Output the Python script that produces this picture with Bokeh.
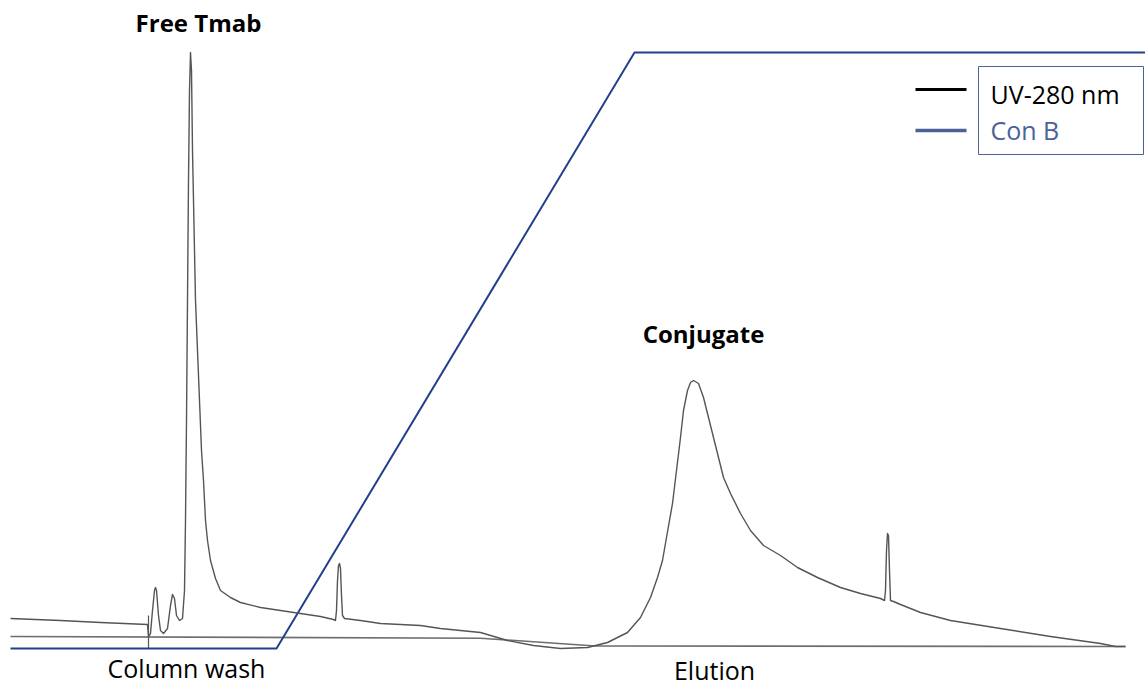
from bokeh.plotting import figure
from bokeh.models import Range1d, Label
from bokeh.embed import file_html
from bokeh.resources import INLINE

# ---------------- data (time in arbitrary units, signal in arbitrary units) -------------
uv_time = [10, 60, 100, 147, 148, 150, 152, 154, 155, 156, 158, 160, 163, 167, 170, 172, 174,
           176, 179, 182, 184, 185, 186, 187, 188, 189, 190, 191, 192, 194, 195, 197, 199, 201,
           203, 205, 207, 210, 215, 220, 230, 240, 260, 280, 300, 320, 333, 335, 336, 337, 338,
           339, 340, 341, 342, 344, 360, 380, 400, 420, 440, 460, 480, 507, 533, 560, 587, 607,
           627, 640, 650, 657, 662, 666, 672, 676, 680, 683, 687, 690, 693, 698, 703, 708, 713,
           718, 723, 730, 740, 750, 763, 780, 797, 817, 840, 860, 880, 884, 885, 886, 887, 888,
           889, 890, 893, 900, 920, 950, 1000, 1050, 1100, 1115, 1125]
uv_signal = [70, 68, 66, 64, 52, 55, 78, 98, 101, 98, 73, 58, 55, 60, 83, 94, 90,
             73, 68, 70, 98, 168, 268, 388, 508, 598, 636, 618, 538, 438, 388, 338, 288, 238,
             208, 168, 148, 128, 110, 98, 91, 86, 81, 78, 75, 72, 69, 68, 78, 108, 123,
             125, 120, 93, 73, 70, 68, 65, 64, 63, 60, 58, 56, 48, 43, 40, 41, 46,
             56, 71, 91, 111, 128, 151, 185, 218, 251, 278, 298, 306, 308, 305, 291, 271, 251,
             231, 211, 195, 175, 158, 143, 133, 121, 111, 101, 95, 90, 88, 98, 138, 155, 153,
             118, 88, 87, 84, 76, 68, 60, 52, 45, 42, 42]

base_time = [10, 480, 595, 1125]
base_signal = [52, 50.3, 42.5, 42]

conb_time = [10, 276, 634, 1145]
conb_level = [40, 40, 636, 636]

inject_time = [148, 148]
inject_mark = [73, 40]

series_names = ["UV-280 nm", "Con B"]
peak_labels = ["Free Tmab", "Conjugate"]
phase_labels = ["Column wash", "Elution"]

# ---------------- figure -----------------------------------------------------------------
W, H = 1145, 688
p = figure(width=W, height=H, output_backend="svg", toolbar_location=None,
           x_range=Range1d(0, W), y_range=Range1d(0, H), min_border=0)
p.axis.visible = False
p.grid.visible = False
p.outline_line_color = None
p.background_fill_color = "white"
p.border_fill_color = "white"

UV_COLOR = "#555555"
CONB_COLOR = "#23408a"
LEG_BLUE = "#4a6298"

# baseline and injection mark
p.line(base_time, base_signal, line_color="#6e6e6e", line_width=1.6)
p.line(inject_time, inject_mark, line_color="#555555", line_width=1.2)

# Con B gradient
p.line(conb_time, conb_level, line_color=CONB_COLOR, line_width=2)

# UV trace
p.line(uv_time, uv_signal, line_color=UV_COLOR, line_width=1.4, line_join="round")

FONT = "Open Sans"

# peak labels
p.add_layout(Label(x=198, y=H - 22, text=peak_labels[0], text_font=FONT,
                   text_font_size="24px", text_font_style="bold", text_align="center",
                   text_baseline="middle", text_color="black"))
p.add_layout(Label(x=703, y=H - 333, text=peak_labels[1], text_font=FONT,
                   text_font_size="24px", text_font_style="bold", text_align="center",
                   text_baseline="middle", text_color="black"))

# phase labels
p.add_layout(Label(x=186, y=H - 667, text=phase_labels[0], text_font=FONT,
                   text_font_size="25px", text_align="center", text_baseline="middle",
                   text_color="black"))
p.add_layout(Label(x=714, y=H - 669, text=phase_labels[1], text_font=FONT,
                   text_font_size="25px", text_align="center", text_baseline="middle",
                   text_color="black"))

# legend (manual)
p.quad(left=[978], right=[1143], top=[H - 66], bottom=[H - 154],
       fill_color="white", line_color=LEG_BLUE, line_width=1)
p.line([915, 966], [H - 89, H - 89], line_color="black", line_width=3)
p.line([915, 966], [H - 130, H - 130], line_color=LEG_BLUE, line_width=3.5)
p.add_layout(Label(x=990, y=H - 93, text=series_names[0], text_font=FONT,
                   text_font_size="25px", text_align="left", text_baseline="middle",
                   text_color="black"))
p.add_layout(Label(x=990, y=H - 129, text=series_names[1], text_font=FONT,
                   text_font_size="25px", text_align="left", text_baseline="middle",
                   text_color=LEG_BLUE))

open("out.html", "w").write(file_html(p, INLINE))
